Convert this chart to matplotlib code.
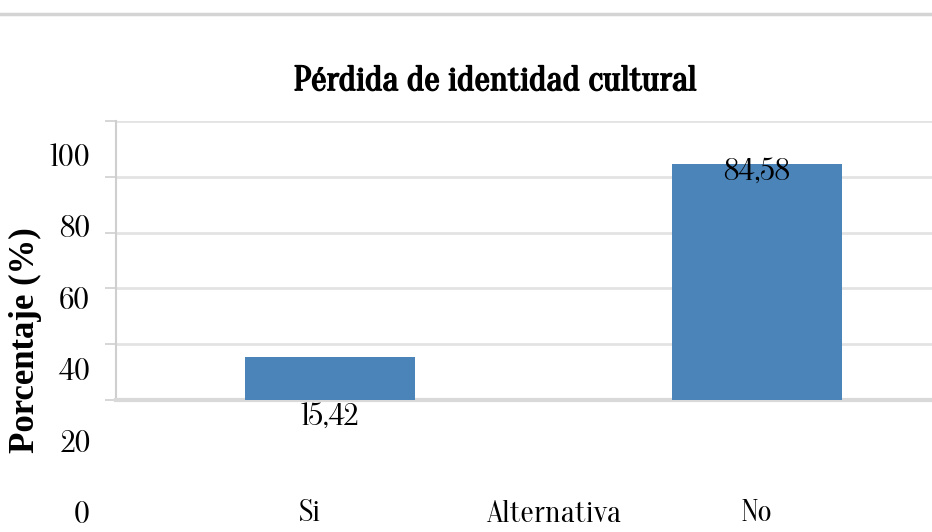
#! -*- coding: utf-8 -*-

#---------------------------------
# モジュールのインポート
#---------------------------------
import matplotlib
matplotlib.use('Agg')
import matplotlib.pyplot as plt
import matplotlib.patheffects as pe
import matplotlib.transforms as mtransforms
from matplotlib import font_manager

#---------------------------------
# データ
#---------------------------------
categorias = ['Si', 'No']
porcentajes = [15.42, 84.58]
y_ticks = [0, 20, 40, 60, 80, 100]
titulo = 'Pérdida de identidad cultural'
eje_x = 'Alternativa'
eje_y = 'Porcentaje (%)'

#---------------------------------
# 定数定義
#---------------------------------
W, H = 932, 532
BAR_COLOR = '#4a84b8'
GRID_COLOR = '#e3e3e3'

#---------------------------------
# 関数
#---------------------------------
def find_family(name, default):
	for f in font_manager.fontManager.ttflist:
		if f.name.strip() == name:
			return f.name
	return default

def fx(px):
	return px / W

def fy(px):
	return 1.0 - px / H

def main():
	cond = find_family('Oranienbaum', 'Liberation Serif')
	plt.rcParams['font.family'] = [cond, 'Liberation Serif', 'DejaVu Serif']

	fig = plt.figure(figsize=(W / 100, H / 100), dpi=100)

	# --- 上部の灰色の線 ---
	fig.add_artist(plt.Line2D([0, 1], [fy(14), fy(14)], transform=fig.transFigure,
			color='#d4d4d4', lw=2.5))

	# --- メインの軸 ---
	ax = fig.add_axes([fx(116), fy(400), 1 - fx(116), fy(121) - fy(400)])
	x = list(range(len(categorias)))
	ax.bar(x, porcentajes, width=0.40, color=BAR_COLOR, zorder=3)
	ax.set_xlim(-0.501, 1.41)
	ax.set_ylim(0, 100)
	ax.set_yticks(y_ticks)
	ax.yaxis.grid(True, color=GRID_COLOR, lw=2.0, zorder=0)
	ax.set_axisbelow(True)
	ax.tick_params(axis='y', length=8, width=1.2, color='#cfcfcf', labelleft=False)
	for s in ['top', 'right']:
		ax.spines[s].set_visible(False)
	ax.spines['left'].set_color('#cfcfcf')
	ax.spines['left'].set_linewidth(1.5)
	ax.spines['bottom'].set_color('#d9d9d9')
	ax.spines['bottom'].set_linewidth(3.0)

	# --- X軸ラベル ---
	ax.set_xticks(x)
	ax.set_xticklabels(categorias, fontsize=22)
	ax.tick_params(axis='x', length=0, pad=71)
	desplaz = [-20, 0]
	for lab, d in zip(ax.get_xticklabels(), desplaz):
		lab.set_transform(lab.get_transform() + mtransforms.ScaledTranslation(d / 100, 0, fig.dpi_scale_trans))
	ax.set_xlabel(eje_x, fontsize=22)
	ax.xaxis.set_label_coords((554 - 116) / 816, (400 - 515) / 279)
	ax.xaxis.label.set_va('center')

	# --- 値ラベル ---
	offsets = [-61, -9]
	for i, v in enumerate(porcentajes):
		ax.annotate(('%.2f' % v).replace('.', ','), xy=(i, v), xytext=(0, offsets[i] * 0.72),
				textcoords='offset points', ha='center', va='center', fontsize=22, zorder=5)

	# --- Y軸目盛りラベル (ずれた位置) ---
	ax2 = fig.add_axes([fx(116), fy(512), 1 - fx(116), fy(155) - fy(512)])
	ax2.set_ylim(0, 100)
	ax2.set_yticks(y_ticks)
	ax2.set_yticklabels([str(t) for t in y_ticks], fontsize=22)
	ax2.tick_params(axis='y', length=0, pad=26 * 0.72)
	ax2.set_xticks([])
	ax2.patch.set_visible(False)
	for s in ax2.spines.values():
		s.set_visible(False)

	# --- タイトル・Y軸タイトル ---
	fig.text(fx(495), fy(82), titulo, ha='center', va='center', fontsize=25,
			path_effects=[pe.withStroke(linewidth=1.2, foreground='black')])
	fig.text(fx(25), fy(340), eje_y, ha='center', va='center', rotation=90,
			fontsize=25, fontweight='bold', family='Liberation Serif')

	fig.savefig('out.png', dpi=100)
	plt.close()

	return

#---------------------------------
# メイン処理
#---------------------------------
if __name__ == '__main__':
	main()
